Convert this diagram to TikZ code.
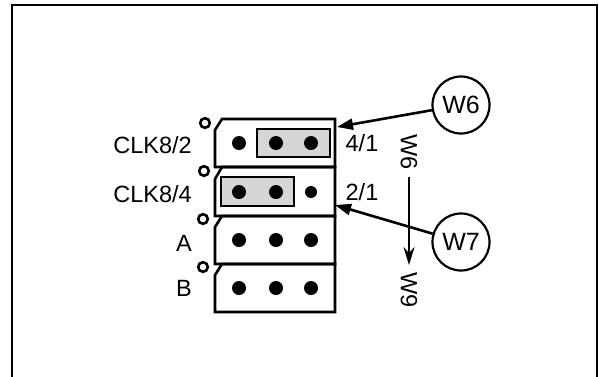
\documentclass[tikz,border=0pt]{standalone}
\usepackage{fontspec}
\setmainfont{Liberation Sans}
\usetikzlibrary{positioning}
\usetikzlibrary{arrows.meta}

\begin{document}
\begin{tikzpicture}[x=1pt, y=-1pt, line width=2.6pt, black,
  font=\fontsize{23.5}{26}\selectfont,
  lbl/.style={inner sep=0pt},
  jumper/.style={draw, circle, minimum size=57pt, inner sep=0pt, line width=2.2pt},
  hole/.style={line width=2.6pt},
  shunt/.style={fill=black!16, line width=2.8pt},
  feed/.style={-{Triangle[length=16pt,width=11pt]}},
  turn/.style={-{Stealth[length=18pt,width=11pt,inset=6pt]}}]
  \useasboundingbox (0,0) rectangle (599,376);
  % frame
  \draw (12,380) -- (12,5) -- (597,5) -- (597,380);
  % header rows
  \draw (222,119) -- (335,119) -- (335,167) -- (215,167) -- (215,130) -- cycle;
  \draw (222,167) -- (335,167) -- (335,216) -- (215,216) -- (215,179) -- cycle;
  \draw (222,216) -- (335,216) -- (335,264) -- (215,264) -- (215,227) -- cycle;
  \draw (222,264) -- (335,264) -- (335,312) -- (215,312) -- (215,275) -- cycle;
  \draw[hole] (205,123) circle [radius=4.8pt];
  \draw[hole] (204,171) circle [radius=4.8pt];
  \draw[hole] (203,219) circle [radius=4.8pt];
  \draw[hole] (203,267) circle [radius=4.8pt];
  % shunts
  \draw[shunt] (257,129) rectangle (330,157);
  \draw[shunt] (221,177) rectangle (294,206);
  % pins
  \fill (239,143) circle [radius=7pt];
  \fill (276,143) circle [radius=7pt];
  \fill (311,143) circle [radius=7pt];
  \fill (239,192) circle [radius=7pt];
  \fill (276,192) circle [radius=7pt];
  \fill (311,192) circle [radius=6pt];
  \fill (239,240) circle [radius=7pt];
  \fill (276,240) circle [radius=7pt];
  \fill (311,240) circle [radius=7pt];
  \fill (239,288) circle [radius=7pt];
  \fill (276,288) circle [radius=7pt];
  \fill (311,288) circle [radius=7pt];
  % labels
  \node[lbl, anchor=east] (clk2) at (193,145) {CLK8/2};
  \node[lbl, anchor=east] (clk4) at (193,194) {CLK8/4};
  \node[lbl, anchor=east] (rowa) at (193,243) {A};
  \node[lbl, anchor=east] (rowb) at (193,288) {B};
  \node[lbl] (pos41) at (362,143) {4/1};
  \node[lbl] (pos21) at (362,192) {2/1};
  % jumpers
  \node[jumper] (w6) at (461,105) {\fontsize{25}{28}\selectfont W6};
  \node[jumper] (w7) at (461,242) {\fontsize{25}{28}\selectfont W7};
  \coordinate (tip6) at (337,127);
  \coordinate (tip7) at (335,205);
  \draw[feed] (w6) -- (tip6);
  \draw[feed] (w7) -- (tip7);
  \node[lbl, rotate=-90] (vtop) at (409,152) {W6};
  \node[lbl, rotate=-90] (vbot) at (409,290) {W9};
  \draw[turn, shorten <=6pt, shorten >=6pt] (vtop) -- (vbot);
\end{tikzpicture}
\end{document}
